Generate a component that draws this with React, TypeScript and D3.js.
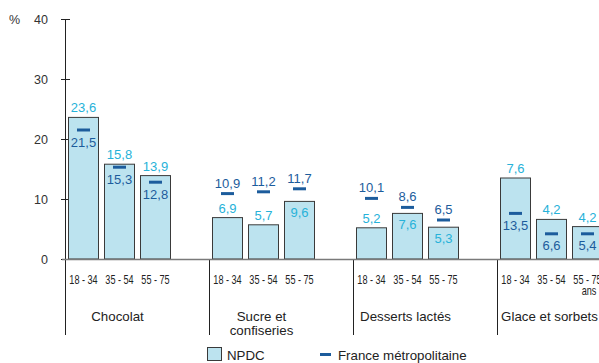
import React from "react";
import * as d3 from "d3";

const categories = ["Chocolat", "Sucre et confiseries", "Desserts lactés", "Glace et sorbets"];
const categoryLines = [["Chocolat"], ["Sucre et", "confiseries"], ["Desserts lactés"], ["Glace et sorbets"]];
const ages = ["18 - 34", "35 - 54", "55 - 75"];
// NPDC values (cyan labels)
const npdc = [
  [23.6, 15.8, 13.9],
  [6.9, 5.7, 9.6],
  [5.2, 7.6, 5.3],
  [7.6, 4.2, 4.2],
];
// France métropolitaine values (dark labels)
const france = [
  [21.5, 15.3, 12.8],
  [10.9, 11.2, 11.7],
  [10.1, 8.6, 6.5],
  [13.5, 6.6, 5.4],
];
// which series the original draws as bars in each category (the last group is swapped in the source)
const barSeries = ["npdc", "npdc", "npdc", "france"];
const yTicks = [0, 10, 20, 30, 40];

const W = 599;
const H = 363;
const CYAN = "#27b2d9";
const DARK = "#1c5c9c";
const BAR_FILL = "#bce3ef";
const BAR_STROKE = "#3a3a3a";
const FONT = "'Liberation Sans', Arial, sans-serif";

export default function App() {
  const y = d3.scaleLinear().domain([0, 40]).range([259, 19]);
  const gx = d3.scaleBand<string>().domain(categories).range([65.5, 65.5 + 576]);
  const ax = d3
    .scaleBand<string>()
    .domain(ages)
    .range([0, 108])
    .paddingInner(1 / 6)
    .paddingOuter(1 / 12);
  const bw = ax.bandwidth();

  return (
    <svg
      width={W}
      height={H}
      style={{ position: "absolute", left: 0, top: 0 }}
      fontFamily={FONT}
    >
      <rect x={0} y={0} width={W} height={H} fill="#fff" />
      {/* y axis */}
      <line x1={65.5} x2={65.5} y1={y(40)} y2={335} stroke="#222" strokeWidth={1} />
      {yTicks.map((t) => (
        <g key={t}>
          <line x1={61} x2={70} y1={Math.round(y(t)) + 0.5} y2={Math.round(y(t)) + 0.5} stroke="#222" />
          <text x={48} y={y(t) + 4.5} textAnchor="end" fontSize={12.5} fill="#333">
            {t}
          </text>
        </g>
      ))}
      <text x={9} y={y(40) + 4.5} fontSize={12.5} fill="#333">
        %
      </text>

      {categories.map((c, ci) => {
        const g0 = gx(c)!;
        const isNpdcBar = barSeries[ci] === "npdc";
        return (
          <g key={c}>
            {ci > 0 && (
              <line x1={g0} x2={g0} y1={259} y2={335} stroke="#222" strokeWidth={1} />
            )}
            {ages.map((a, ai) => {
              const n = npdc[ci][ai];
              const f = france[ci][ai];
              const barV = isNpdcBar ? n : f;
              const dashV = isNpdcBar ? f : n;
              const x0 = g0 + ax(a)!;
              const cx = x0 + bw / 2;
              const top = y(barV);
              const dy = y(dashV);
              let cyanY: number;
              let darkY: number;
              if (dashV < barV) {
                cyanY = top - 5;
                darkY = dy + 16.5;
              } else {
                darkY = dy - 6;
                cyanY = dashV - barV < 3 ? top + 16 : top - 5;
              }
              const last = ci === categories.length - 1 && ai === ages.length - 1;
              return (
                <g key={a}>
                  <rect
                    x={x0}
                    y={top}
                    width={bw}
                    height={y(0) - top}
                    fill={BAR_FILL}
                    stroke={BAR_STROKE}
                    strokeWidth={1}
                  />
                  <line x1={cx - 6.5} x2={cx + 6.5} y1={dy} y2={dy} stroke={DARK} strokeWidth={3} />
                  <text x={cx} y={cyanY} textAnchor="middle" fontSize={13} fill={CYAN}>
                    {String(n).replace(".", ",")}
                  </text>
                  <text x={cx} y={darkY} textAnchor="middle" fontSize={13} fill={DARK}>
                    {String(f).replace(".", ",")}
                  </text>
                  <g transform={`translate(${cx},284) scale(0.76,1)`}>
                    <text x={0} y={0} textAnchor="middle" fontSize={12} fill="#222">
                      {a}
                    </text>
                    {last && (
                      <text x={2} y={10.5} textAnchor="middle" fontSize={12} fill="#222">
                        ans
                      </text>
                    )}
                  </g>
                </g>
              );
            })}
            <text textAnchor="middle" fontSize={13.3} fill="#222">
              {categoryLines[ci].map((l, li) => (
                <tspan key={li} x={g0 + 52} y={321 + li * 13.5}>
                  {l}
                </tspan>
              ))}
            </text>
          </g>
        );
      })}
      {/* baseline */}
      <line x1={62} x2={W} y1={259.5} y2={259.5} stroke="#7a7a7a" strokeWidth={1.5} />

      {/* legend */}
      <rect x={207.5} y={347.5} width={14} height={13} fill={BAR_FILL} stroke={BAR_STROKE} strokeWidth={1} />
      <text x={227} y={360} fontSize={13.3} fill="#222">
        NPDC
      </text>
      <line x1={320} x2={331} y1={354.5} y2={354.5} stroke={DARK} strokeWidth={3} />
      <text x={338} y={360} fontSize={13.3} fill="#222">
        France métropolitaine
      </text>
    </svg>
  );
}
